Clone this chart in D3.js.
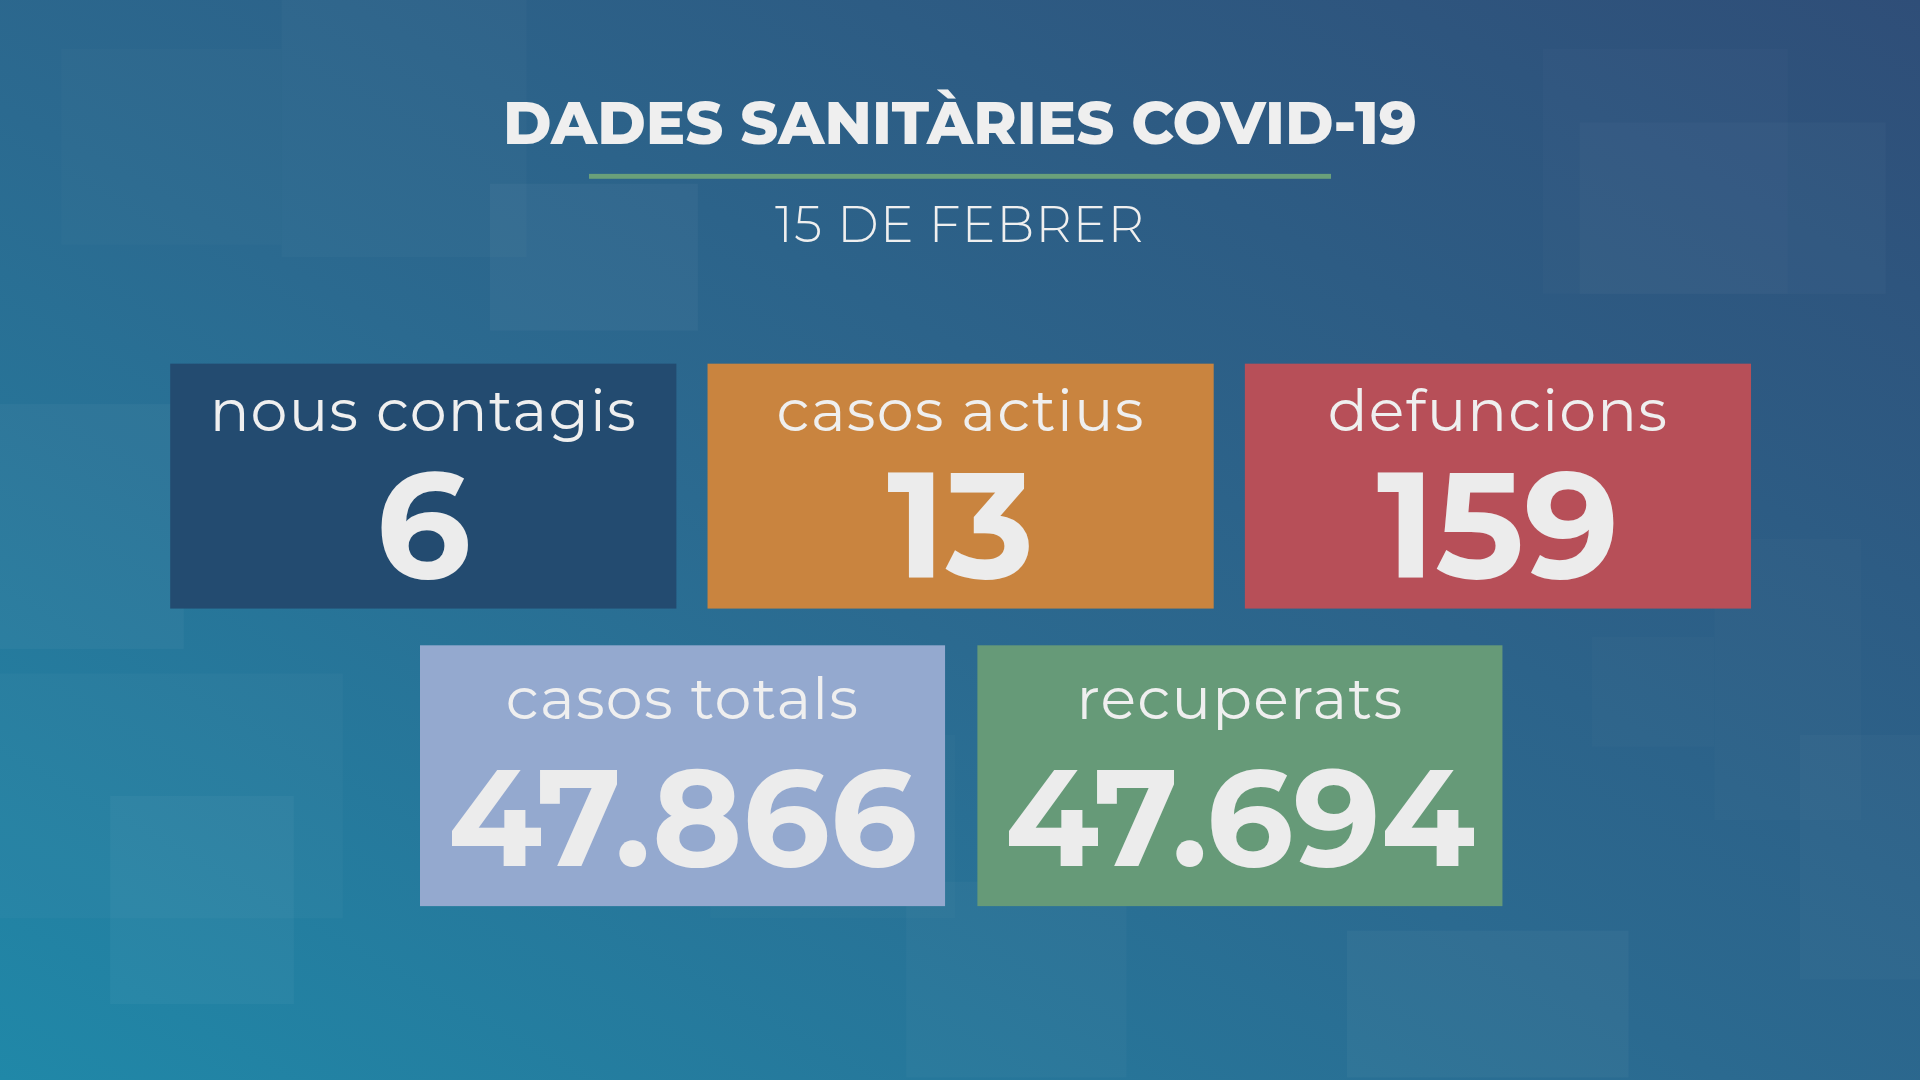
<!DOCTYPE html>
<html><head><meta charset="utf-8">
<script src="https://cdn.jsdelivr.net/npm/d3@7"></script>
<style>html,body{margin:0;padding:0;overflow:hidden;background:#2a5a85}</style>
</head><body>
<svg id="c" width="1920" height="1080" viewBox="0 0 1568 882" preserveAspectRatio="none"></svg>
<script>
const title = "DADES SANITÀRIES COVID-19";
const subtitle = "15 DE FEBRER";
const row1Labels = ["nous contagis", "casos actius", "defuncions"];
const row1Values = ["6", "13", "159"];
const row2Labels = ["casos totals", "recuperats"];
const row2Values = ["47.866", "47.694"];
const row1Colors = ["#234b70", "#c9843f", "#b74f58"];
const row2Colors = ["#94a9cf", "#669a78"];

const svg = d3.select("#c");
const defs = svg.append("defs");
const g = defs.append("linearGradient").attr("id","bg").attr("x1","0").attr("y1","1").attr("x2","1").attr("y2","0");
g.append("stop").attr("offset","0").attr("stop-color","#2088a8");
g.append("stop").attr("offset","0.45").attr("stop-color","#2b6a90");
g.append("stop").attr("offset","1").attr("stop-color","#2f4e78");
svg.append("rect").attr("width",1568).attr("height",882).attr("fill","url(#bg)");
const deco = [[50,40,180,160],[230,0,200,210],[400,150,170,120],[1260,40,200,200],[1290,100,250,140],[0,330,150,200],[1400,440,120,230],[0,550,280,200],[90,650,150,170],[1300,520,100,90],[740,720,180,160],[1100,760,230,120],[580,600,200,150],[1470,600,98,200]];
svg.append("g").selectAll("rect").data(deco).join("rect")
  .attr("x",d=>d[0]).attr("y",d=>d[1]).attr("width",d=>d[2]).attr("height",d=>d[3])
  .attr("fill","#ffffff").attr("opacity",(d,i)=>0.015+0.01*(i%3));

const font = "Montserrat, 'Noto Sans', 'Open Sans', sans-serif";
svg.append("text").attr("x",784).attr("y",118).attr("text-anchor","middle")
  .attr("font-family",font).attr("font-weight",800).attr("font-size",48).attr("fill","#efefef").text(title);
svg.append("rect").attr("x",481).attr("y",142).attr("width",606).attr("height",4).attr("fill","#6aa07a");
svg.append("text").attr("x",784).attr("y",198).attr("text-anchor","middle")
  .attr("font-family",font).attr("font-weight",300).attr("font-size",41).attr("letter-spacing",1).attr("fill","#efefef").text(subtitle);

function row(labels, values, colors, x0, x1, y0, h, labY, valY, valSize){
  const x = d3.scaleBand().domain(d3.range(labels.length)).range([x0,x1]).paddingInner(0.058);
  const gg = svg.append("g").selectAll("g").data(labels).join("g");
  gg.append("rect").attr("x",(d,i)=>x(i)).attr("y",y0).attr("width",x.bandwidth()).attr("height",h).attr("fill",(d,i)=>colors[i]);
  gg.append("text").attr("x",(d,i)=>x(i)+x.bandwidth()/2).attr("y",labY).attr("text-anchor","middle")
    .attr("font-family",font).attr("font-weight",400).attr("font-size",48).attr("letter-spacing",1).attr("fill","#efefef").text(d=>d);
  gg.append("text").attr("x",(d,i)=>x(i)+x.bandwidth()/2).attr("y",valY).attr("text-anchor","middle")
    .attr("font-family",font).attr("font-weight",700).attr("font-size",valSize).attr("fill","#ececec").text((d,i)=>values[i]);
}
row(row1Labels,row1Values,row1Colors,139,1430,297,200,352,472,122);
row(row2Labels,row2Values,row2Colors,343,1227,527,213,587,707,112);
</script></body></html>
